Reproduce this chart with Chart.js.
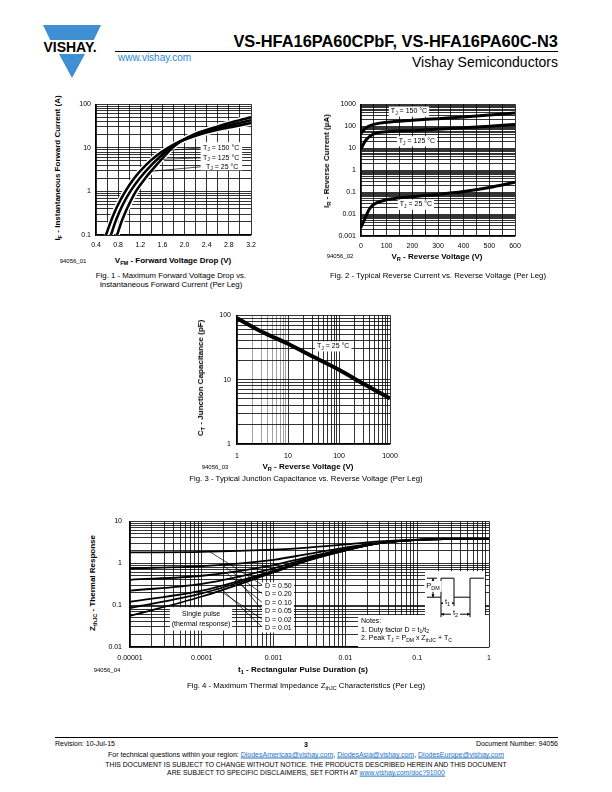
<!DOCTYPE html>
<html lang="en">
<head>
<meta charset="UTF-8">
<title>VS-HFA16PA60CPbF, VS-HFA16PA60C-N3 - page 3</title>
<style>
  body { margin:0; width:612px; height:792px; position:relative; background:#fff; color:#000;
         font-family:"Liberation Sans", Arial, sans-serif; overflow:hidden; }
  .t { position:absolute; white-space:nowrap; line-height:1; }
  .c { transform:translate(-50%, -50%); }
  .l { transform:translate(0, -50%); }
  .r { transform:translate(-100%, -50%); }
  .v { transform:translate(-50%, -50%) rotate(-90deg); }
  .ax { font-weight:bold; font-size:8px; }
  .cap { font-size:7.8px; }
  .id { font-size:6px; }
  sub { font-size:70%; vertical-align:-0.3em; line-height:0; }
  canvas { position:absolute; }
  a { color:#1f72c4; }
</style>
<script src="https://cdn.jsdelivr.net/npm/chart.js"></script>
</head>
<body>

<!-- en-tete -->
<svg width="70" height="58" viewBox="0 0 70 58" style="position:absolute;left:36px;top:23px">
  <polygon points="7,2 65,2 57.8,17 14.2,17" fill="#3f8fd2"/>
  <polygon points="23,31 49,31 36,55" fill="#3f8fd2"/>
  <text x="34" y="29" font-family="Liberation Sans, Arial" font-weight="bold" font-size="14" text-anchor="middle">VISHAY.</text>
</svg>
<div class="t r" style="left:558px;top:41px;font-weight:bold;font-size:16.4px">VS-HFA16PA60CPbF, VS-HFA16PA60C-N3</div>
<div style="position:absolute;left:115px;top:51px;width:443px;height:1px;background:#000"></div>
<div class="t l" style="left:118px;top:58px;font-size:10px;color:#2a86d1">www.vishay.com</div>
<div class="t r" style="left:558px;top:62px;font-size:14px">Vishay Semiconductors</div>

<!-- Fig. 1 -->
<canvas id="fig1" width="196" height="160" style="left:66px;top:95px"></canvas>
<div class="t v ax" style="left:58px;top:168px">I<sub>F</sub> - Instantaneous Forward Current (A)</div>
<div class="t c ax" style="left:173px;top:261px">V<sub>FM</sub> - Forward Voltage Drop (V)</div>
<div class="t c id" style="left:73px;top:261px">94056_01</div>
<div class="t c cap" style="left:171px;top:276px">Fig. 1 - Maximum Forward Voltage Drop vs.</div>
<div class="t c cap" style="left:171px;top:285px">Instantaneous Forward Current (Per Leg)</div>

<!-- Fig. 2 -->
<canvas id="fig2" width="197" height="160" style="left:330px;top:95px"></canvas>
<div class="t v ax" style="left:327px;top:161px">I<sub>R</sub> - Reverse Current (&micro;A)</div>
<div class="t c ax" style="left:437px;top:257px">V<sub>R</sub> - Reverse Voltage (V)</div>
<div class="t c id" style="left:340px;top:256px">94056_02</div>
<div class="t c cap" style="left:438px;top:276px">Fig. 2 - Typical Reverse Current vs. Reverse Voltage (Per Leg)</div>

<!-- Fig. 3 -->
<canvas id="fig3" width="202" height="160" style="left:205px;top:305px"></canvas>
<div class="t v ax" style="left:201px;top:378px">C<sub>T</sub> - Junction Capacitance (pF)</div>
<div class="t c ax" style="left:308px;top:467px">V<sub>R</sub> - Reverse Voltage (V)</div>
<div class="t c id" style="left:215px;top:467px">94056_03</div>
<div class="t c cap" style="left:306px;top:479px">Fig. 3 - Typical Junction Capacitance vs. Reverse Voltage (Per Leg)</div>

<!-- Fig. 4 -->
<canvas id="fig4" width="400" height="157" style="left:98px;top:509px"></canvas>
<div class="t v ax" style="left:93px;top:583px">Z<sub>thJC</sub> - Thermal Response</div>
<div class="t c ax" style="left:303px;top:670px">t<sub>1</sub> - Rectangular Pulse Duration (s)</div>
<div class="t c id" style="left:107px;top:670px">94056_04</div>
<div class="t c cap" style="left:306px;top:686px">Fig. 4 - Maximum Thermal Impedance Z<sub>thJC</sub> Characteristics (Per Leg)</div>

<!-- pied de page -->
<div style="position:absolute;left:55px;top:737px;width:503px;height:1px;background:#000"></div>
<div class="t l" style="left:55px;top:743px;font-size:7px">Revision: 10-Jul-15</div>
<div class="t c" style="left:306px;top:744px;font-size:7px;font-weight:bold">3</div>
<div class="t r" style="left:558px;top:743px;font-size:7px">Document Number: 94056</div>
<div class="t c" style="left:306px;top:754px;font-size:7px">For technical questions within your region: <a href="#">DiodesAmericas@vishay.com</a>, <a href="#">DiodesAsia@vishay.com</a>, <a href="#">DiodesEurope@vishay.com</a></div>
<div class="t c" style="left:306px;top:765px;font-size:6.8px">THIS DOCUMENT IS SUBJECT TO CHANGE WITHOUT NOTICE. THE PRODUCTS DESCRIBED HEREIN AND THIS DOCUMENT</div>
<div class="t c" style="left:306px;top:773px;font-size:6.8px">ARE SUBJECT TO SPECIFIC DISCLAIMERS, SET FORTH AT <a href="#">www.vishay.com/doc?91000</a></div>

<script>
  const FONT = '"Liberation Sans", Arial, sans-serif';

  // ---- Fig. 1 : I_F (A) en fonction de V_FM (V)
  const fig1V150 = [0.58, 0.665, 0.72, 0.80, 0.93, 1.09, 1.30, 1.52, 1.70, 1.92, 2.2, 2.6, 2.9, 3.2];
  const fig1I150 = [0.1, 0.2, 0.3, 0.5, 1, 2, 4, 7, 10, 14, 19, 26, 31, 37];
  const fig1V125 = [0.67, 0.75, 0.805, 0.885, 1.02, 1.19, 1.40, 1.60, 1.74, 1.92, 2.2, 2.6, 2.9, 3.2];
  const fig1I125 = [0.1, 0.2, 0.3, 0.5, 1, 2, 4, 7, 10, 14, 20, 28, 35, 43];
  const fig1V25 = [0.78, 0.86, 0.915, 0.995, 1.12, 1.29, 1.49, 1.66, 1.78, 1.93, 2.2, 2.6, 2.9, 3.2];
  const fig1I25 = [0.1, 0.2, 0.3, 0.5, 1, 2, 4, 7, 10, 14, 21, 31, 40, 50];
  const fig1XLabels = ['0.4', '0.8', '1.2', '1.6', '2.0', '2.4', '2.8', '3.2'];
  const fig1YLabels = ['0.1', '1', '10', '100'];

  // ---- Fig. 2 : I_R (uA) en fonction de V_R (V)
  const fig2V150 = [0, 20, 50, 100, 200, 300, 400, 500, 600];
  const fig2I150 = [48, 85, 120, 150, 185, 220, 260, 320, 400];
  const fig2V125 = [0, 20, 50, 100, 200, 300, 400, 500, 600];
  const fig2I125 = [9.5, 24, 45, 56, 64, 73, 85, 100, 120];
  const fig2V25 = [0, 15, 30, 45, 60, 100, 200, 300, 400, 500, 600];
  const fig2I25 = [0.0025, 0.006, 0.015, 0.025, 0.032, 0.045, 0.062, 0.078, 0.105, 0.16, 0.28];
  const fig2XLabels = ['0', '100', '200', '300', '400', '500', '600'];
  const fig2YLabels = ['0.001', '0.01', '0.1', '1', '10', '100', '1000'];

  // ---- Fig. 3 : C_T (pF) en fonction de V_R (V)
  const fig3V = [1, 3, 10, 30, 100, 300, 1000];
  const fig3C = [90, 56, 36, 23, 14.2, 8.6, 5.1];
  const fig3XLabels = ['1', '10', '100', '1000'];
  const fig3YLabels = ['1', '10', '100'];

  // ---- Fig. 4 : Z_thJC en fonction de t1 (s)
  const fig4T = [0.00001, 0.0001, 0.001, 0.003, 0.01, 0.03, 0.1, 0.3, 1];
  const fig4D50 = [1.8, 1.85, 2.1, 2.35, 2.8, 3.3, 3.65, 3.75, 3.8];
  const fig4D20 = [0.75, 0.85, 1.2, 1.65, 2.35, 3.1, 3.6, 3.75, 3.8];
  const fig4D10 = [0.40, 0.50, 0.9, 1.4, 2.2, 3.05, 3.6, 3.75, 3.8];
  const fig4D05 = [0.22, 0.32, 0.75, 1.3, 2.1, 3.0, 3.6, 3.75, 3.8];
  const fig4D02 = [0.12, 0.22, 0.66, 1.2, 2.05, 3.0, 3.6, 3.75, 3.8];
  const fig4D01 = [0.085, 0.19, 0.63, 1.18, 2.02, 3.0, 3.6, 3.75, 3.8];
  const fig4Single = [0.055, 0.16, 0.6, 1.15, 2.0, 3.0, 3.6, 3.75, 3.8];
  const fig4XLabels = ['0.00001', '0.0001', '0.001', '0.01', '0.1', '1'];
  const fig4YLabels = ['0.01', '0.1', '1', '10'];

  function series(xs, ys) { return xs.map((x, i) => ({ x: x, y: ys[i] })); }

  function curve(xs, ys, w, halo) {
    return {
      data: series(xs, ys), borderColor: halo ? '#fff' : '#000', borderWidth: w,
      pointRadius: 0, fill: false, cubicInterpolationMode: 'monotone', order: halo ? 1 : 0
    };
  }

  // grille log : 1..9 x 10^n
  function logTicks(min, max) {
    const out = [];
    for (let e = Math.floor(Math.log10(min)); e <= Math.ceil(Math.log10(max)); e++) {
      for (let m = 1; m < 10; m++) {
        const v = Number((m * Math.pow(10, e)).toPrecision(6));
        if (v >= min * 0.999 && v <= max * 1.001) out.push(v);
      }
    }
    return out;
  }
  function linTicks(min, max, step) {
    const out = [];
    for (let v = min; v <= max + 1e-9; v += step) out.push(Number(v.toFixed(6)));
    return out;
  }
  function labelFor(labels, v) {
    const s = labels.find(l => Math.abs(Number(l) - v) <= 1e-6 * Math.abs(v) + 1e-9);
    return s === undefined ? '' : s;
  }

  function axis(a, dir) {
    return {
      type: a.type, min: a.min, max: a.max,
      afterBuildTicks: s => { s.ticks = a.grid.map(v => ({ value: v })); },
      afterFit: s => { if (dir === 'x') s.height = a.size; else s.width = a.size; },
      grid: { color: a.gridColor || '#000', lineWidth: 0.8, drawTicks: false },
      border: { color: '#000', width: 1.2 },
      ticks: {
        autoSkip: false, maxRotation: 0, padding: a.pad, color: '#000',
        font: { family: FONT, size: 7 },
        callback: v => labelFor(a.labels, v)
      }
    };
  }

  // texte avec indices
  function drawRich(ctx, segs, x, y, size, align, bg) {
    const parts = segs.map(s => {
      const sub = s[1] === 'sub';
      const fs = sub ? size * 0.72 : size;
      ctx.font = fs + 'px ' + FONT;
      return { t: s[0], sub: sub, fs: fs, w: ctx.measureText(s[0]).width };
    });
    const total = parts.reduce((acc, p) => acc + p.w, 0);
    let x0 = align === 'left' ? x : align === 'right' ? x - total : x - total / 2;
    if (bg) { ctx.fillStyle = '#fff'; ctx.fillRect(x0 - 2, y - size * 0.7, total + 4, size * 1.45); }
    ctx.fillStyle = '#000';
    ctx.textBaseline = 'middle';
    ctx.textAlign = 'left';
    parts.forEach(p => {
      ctx.font = p.fs + 'px ' + FONT;
      ctx.fillText(p.t, x0, p.sub ? y + size * 0.3 : y);
      x0 += p.w;
    });
  }

  function annotations(notes) {
    return {
      id: 'notes',
      afterDatasetsDraw(chart) {
        const ctx = chart.ctx, xs = chart.scales.x, ys = chart.scales.y;
        const px = p => [xs.getPixelForValue(p[0]), ys.getPixelForValue(p[1])];
        ctx.save();
        ctx.strokeStyle = '#000';
        ctx.lineWidth = 0.7;
        (notes.leaders || []).forEach(l => {
          const a = px(l[0]), b = px(l[1]);
          ctx.beginPath(); ctx.moveTo(a[0], a[1]); ctx.lineTo(b[0], b[1]); ctx.stroke();
        });
        ctx.fillStyle = '#fff';
        (notes.boxes || []).forEach(b => {
          const a = px(b[0]), c = px(b[1]);
          ctx.fillRect(a[0], a[1], c[0] - a[0], c[1] - a[1]);
        });
        (notes.labels || []).forEach(lb => {
          const p = px(lb.at);
          drawRich(ctx, lb.segs, p[0], p[1], lb.size || 7, lb.align || 'center', lb.bg);
        });
        if (notes.extra) notes.extra(chart);
        ctx.restore();
      }
    };
  }

  function makeChart(id, o) {
    return new Chart(document.getElementById(id), {
      type: 'line',
      data: { datasets: o.datasets },
      options: {
        responsive: false, animation: false, devicePixelRatio: 1,
        layout: { padding: { top: o.padTop, right: o.padRight, left: 0, bottom: 0 } },
        plugins: { legend: { display: false }, tooltip: { enabled: false } },
        scales: { x: axis(o.x, 'x'), y: axis(o.y, 'y') }
      },
      plugins: [annotations(o.notes)]
    });
  }

  const TJ = t => [['T'], ['J', 'sub'], [' = ' + t + ' \u00B0C']];

  // ---- Fig. 1
  makeChart('fig1', {
    padTop: 8, padRight: 11,
    x: { type: 'linear', min: 0.4, max: 3.2, grid: linTicks(0.4, 3.2, 0.2), labels: fig1XLabels, size: 20, pad: 6 },
    y: { type: 'logarithmic', min: 0.1, max: 100, grid: logTicks(0.1, 100), labels: fig1YLabels, size: 30, pad: 5 },
    datasets: [
      curve(fig1V150, fig1I150, 2.6), curve(fig1V125, fig1I125, 2.6), curve(fig1V25, fig1I25, 2.6),
      curve(fig1V150, fig1I150, 5.5, true), curve(fig1V125, fig1I125, 5.5, true), curve(fig1V25, fig1I25, 5.5, true)
    ],
    notes: {
      leaders: [[[2.33, 10], [1.62, 8.6]], [[2.33, 5.9], [1.50, 5.4]], [[2.33, 3.7], [1.40, 2.9]]],
      boxes: [[[2.29, 13.5], [3.04, 3.05]]],
      labels: [{ segs: TJ('150'), at: [2.66, 10] }, { segs: TJ('125'), at: [2.66, 5.9] }, { segs: TJ('25'), at: [2.68, 3.7] }]
    }
  });

  // ---- Fig. 2
  makeChart('fig2', {
    padTop: 8, padRight: 12,
    x: { type: 'linear', min: 0, max: 600, grid: linTicks(0, 600, 50), labels: fig2XLabels, size: 19, pad: 6 },
    y: { type: 'logarithmic', min: 0.001, max: 1000, grid: logTicks(0.001, 1000), labels: fig2YLabels, size: 31, pad: 5 },
    datasets: [curve(fig2V150, fig2I150, 3), curve(fig2V125, fig2I125, 3), curve(fig2V25, fig2I25, 3)],
    notes: {
      labels: [
        { segs: TJ('150'), at: [187, 470], bg: true },
        { segs: TJ('125'), at: [218, 20.7], bg: true },
        { segs: TJ('25'), at: [214, 0.027], bg: true }
      ]
    }
  });

  // ---- Fig. 3
  makeChart('fig3', {
    padTop: 8, padRight: 17,
    x: {
      type: 'logarithmic', min: 1, max: 1000, grid: logTicks(1, 1000), labels: fig3XLabels, size: 21, pad: 8,
      gridColor: c => (c.tick && c.tick.value > 1 && c.tick.value < 10) ? '#8a8a8a' : '#000'
    },
    y: { type: 'logarithmic', min: 1, max: 100, grid: logTicks(1, 100), labels: fig3YLabels, size: 32, pad: 6 },
    datasets: [curve(fig3V, fig3C, 4)],
    notes: { labels: [{ segs: TJ('25'), at: [77, 33], bg: true }] }
  });

  // ---- Fig. 4
  function arrowHead(ctx, x, y, dx, dy) {
    ctx.beginPath();
    ctx.moveTo(x, y);
    ctx.lineTo(x - dx * 3 - dy * 1.5, y - dy * 3 - dx * 1.5);
    ctx.lineTo(x - dx * 3 + dy * 1.5, y - dy * 3 + dx * 1.5);
    ctx.closePath();
    ctx.fill();
  }
  function pulseInset(chart) {
    const ctx = chart.ctx, a = chart.chartArea, R = a.right, T = a.top;
    const lo = T + 76, hi = T + 57, b = R - 48, c = R - 35, d = R - 19;
    ctx.fillStyle = '#fff';
    ctx.fillRect(R - 64, T + 50, 60, 52);
    ctx.strokeStyle = '#000';
    ctx.lineWidth = 1;
    ctx.beginPath();
    ctx.moveTo(R - 62, lo); ctx.lineTo(b, lo); ctx.lineTo(b, hi); ctx.lineTo(c, hi); ctx.lineTo(c, lo);
    ctx.lineTo(d, lo); ctx.lineTo(d, hi); ctx.lineTo(R - 5, hi);
    ctx.moveTo(R - 62, hi); ctx.lineTo(R - 52, hi);
    ctx.moveTo(b, lo); ctx.lineTo(b, T + 96);
    ctx.moveTo(c, lo); ctx.lineTo(c, T + 85);
    ctx.moveTo(d, lo); ctx.lineTo(d, T + 96);
    ctx.moveTo(R - 56, hi); ctx.lineTo(R - 56, lo);
    ctx.moveTo(b, T + 82); ctx.lineTo(c, T + 82);
    ctx.moveTo(b, T + 93); ctx.lineTo(d, T + 93);
    ctx.stroke();
    ctx.fillStyle = '#000';
    arrowHead(ctx, R - 56, hi, 0, -1); arrowHead(ctx, R - 56, lo, 0, 1);
    arrowHead(ctx, b, T + 82, -1, 0); arrowHead(ctx, c, T + 82, 1, 0);
    arrowHead(ctx, b, T + 93, -1, 0); arrowHead(ctx, d, T + 93, 1, 0);
    drawRich(ctx, [['P'], ['DM', 'sub']], R - 56, T + 65, 7.5, 'center', true);
    drawRich(ctx, [['t'], ['1', 'sub']], (b + c) / 2, T + 81, 7.5, 'center', true);
    drawRich(ctx, [['t'], ['2', 'sub']], (b + d) / 2, T + 92, 7.5, 'center', true);
  }

  const dLabel = t => [['D = ' + t]];
  makeChart('fig4', {
    padTop: 8, padRight: 9,
    x: { type: 'logarithmic', min: 0.00001, max: 1, grid: logTicks(0.00001, 1), labels: fig4XLabels, size: 19, pad: 7 },
    y: { type: 'logarithmic', min: 0.01, max: 10, grid: logTicks(0.01, 10), labels: fig4YLabels, size: 32, pad: 8 },
    datasets: [
      curve(fig4T, fig4D50, 1.8), curve(fig4T, fig4D20, 1.8), curve(fig4T, fig4D10, 1.8),
      curve(fig4T, fig4D05, 1.8), curve(fig4T, fig4D02, 1.8), curve(fig4T, fig4D01, 1.8),
      curve(fig4T, fig4Single, 1.8)
    ],
    notes: {
      leaders: [
        [[0.00013, 1.86], [0.00072, 0.29]], [[0.00019, 0.92], [0.00072, 0.18]],
        [[0.00021, 0.62], [0.00072, 0.11]], [[0.00029, 0.48], [0.00072, 0.070]],
        [[0.00015, 0.27], [0.00072, 0.044]], [[0.00018, 0.26], [0.00072, 0.028]]
      ],
      boxes: [
        [[0.00069, 0.35], [0.00192, 0.0222]],
        [[0.000036, 0.0885], [0.000263, 0.0247]],
        [[0.015, 0.0578], [1, 0.01]]
      ],
      labels: [
        { segs: dLabel('0.50'), at: [0.00076, 0.29], align: 'left' },
        { segs: dLabel('0.20'), at: [0.00076, 0.18], align: 'left' },
        { segs: dLabel('0.10'), at: [0.00076, 0.11], align: 'left' },
        { segs: dLabel('0.05'), at: [0.00076, 0.070], align: 'left' },
        { segs: dLabel('0.02'), at: [0.00076, 0.044], align: 'left' },
        { segs: dLabel('0.01'), at: [0.00076, 0.028], align: 'left' },
        { segs: [['Single pulse']], at: [0.0000975, 0.061] },
        { segs: [['(thermal response)']], at: [0.0000975, 0.0358] },
        { segs: [['Notes:']], at: [0.0165, 0.041], align: 'left' },
        { segs: [['1. Duty factor D = t'], ['1', 'sub'], ['/t'], ['2', 'sub']], at: [0.0165, 0.026], align: 'left' },
        { segs: [['2. Peak T'], ['J', 'sub'], [' = P'], ['DM', 'sub'], [' x Z'], ['thJC', 'sub'], [' + T'], ['C', 'sub']], at: [0.0165, 0.0161], align: 'left' }
      ],
      extra: pulseInset
    }
  });
</script>
</body>
</html>
